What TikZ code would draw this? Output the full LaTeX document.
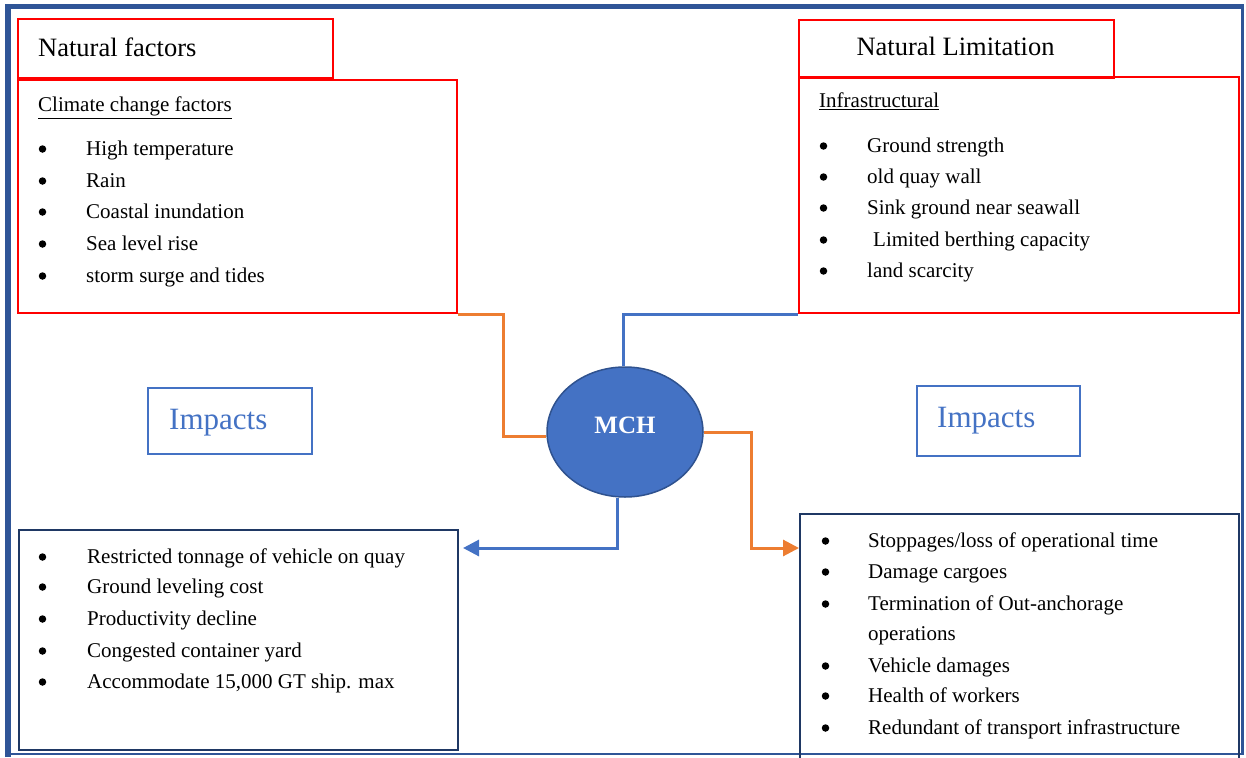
\documentclass[tikz,border=0pt]{standalone}
\usepackage{fontspec}
\setmainfont{Liberation Serif}
\usetikzlibrary{shapes.geometric,arrows.meta}

\definecolor{boxred}{HTML}{FF0000}
\definecolor{linkorange}{HTML}{ED7D31}
\definecolor{mchblue}{HTML}{4472C4}
\definecolor{mchedge}{HTML}{2F528F}
\definecolor{navy}{HTML}{1F3864}
\definecolor{framblue}{HTML}{2F5597}

\begin{document}
\begin{tikzpicture}
[
    x=1pt, y=-1pt,
    redbox/.style={draw=boxred, line width=2.2pt, anchor=north west, inner sep=0pt},
    navybox/.style={draw=navy, line width=2pt, anchor=north west, inner sep=0pt},
    impactbox/.style={draw=mchblue, line width=2pt, anchor=north west, inner sep=0pt},
    head/.style={anchor=base west, inner sep=0pt, font=\fontsize{26.5}{30}\selectfont},
    item/.style={anchor=base west, inner sep=0pt, font=\fontsize{21}{25}\selectfont},
    bulletmark/.style={circle, fill=black, inner sep=0pt, minimum size=7.5pt},
    impacttext/.style={anchor=base west, inner sep=0pt, text=mchblue, font=\fontsize{31}{36}\selectfont},
    link/.style={line width=3pt},
    tip/.style={-{Triangle[length=16pt, width=16pt]}}
]
    \useasboundingbox (0,0) rectangle (1246,757);

    % frame
    \draw[framblue, line width=2.5pt] (8,6.5) rectangle (1242.5,754);
    \draw[framblue, line width=5.5pt] (8,757) -- (8,6.5) -- (1244,6.5);

    % natural factors
    \begin{scope}
        \node [redbox, minimum width=315pt, minimum height=59pt] (nfhead) at (17,18) {};
        \node [redbox, minimum width=439pt, minimum height=233pt] (nfbody) at (17,79) {};
        \node [head] (nftitle) at (38,57) {Natural factors};
        \node [item] (nfsub) at (38,112) {\underline{Climate change factors}};
        \foreach \y/\t [count=\i] in {155/High temperature, 187/Rain, 218/Coastal inundation,
                250/Sea level rise, 282/storm surge and tides}
        {
            \node [bulletmark] (nfdot\i) at (42.5,\y-6) {};
            \node [item] (nfitem\i) at (86,\y) {\t};
        }
    \end{scope}

    % natural limitation
    \begin{scope}
        \node [redbox, minimum width=315pt, minimum height=58pt] (nlhead) at (798,19) {};
        \node [redbox, minimum width=440pt, minimum height=236pt] (nlbody) at (798,76) {};
        \node [head, anchor=base] (nltitle) at (955.5,56) {Natural Limitation};
        \node [item] (nlsub) at (819,108) {\underline{Infrastructural}};
        \foreach \y/\x/\t [count=\i] in {152/867/Ground strength, 183/867/old quay wall,
                214/867/Sink ground near seawall, 246/873/Limited berthing capacity,
                277/867/land scarcity}
        {
            \node [bulletmark] (nldot\i) at (823.5,\y-6) {};
            \node [item] (nlitem\i) at (\x,\y) {\t};
        }
    \end{scope}

    % impacts labels
    \node [impactbox, minimum width=164pt, minimum height=66pt] (impleft) at (147,387) {};
    \node [impacttext] (impleftt) at (169,429) {Impacts};
    \node [impactbox, minimum width=163pt, minimum height=70pt] (impright) at (916,385) {};
    \node [impacttext] (imprightt) at (937,427) {Impacts};

    % centre
    \node [ellipse, fill=mchblue, draw=mchedge, line width=1.5pt, minimum width=156pt,
        minimum height=130pt, text=white, font=\fontsize{25}{30}\selectfont\bfseries] (mch) at (625,432) {};
    \node [text=white, font=\fontsize{25}{30}\selectfont\bfseries, inner sep=0pt] (mchtext) at (625,425) {MCH};

    % lower left impacts
    \begin{scope}
        \node [navybox, minimum width=439pt, minimum height=220pt] (lebox) at (18,529) {};
        \foreach \y/\t [count=\i] in {563/Restricted tonnage of vehicle on quay, 593/Ground leveling cost,
                625/Productivity decline, 657/Congested container yard,
                688/{Accommodate 15,000 GT ship. max}}
        {
            \node [bulletmark] (ledot\i) at (42.5,\y-6) {};
            \node [item] (leitem\i) at (87,\y) {\t};
        }
    \end{scope}

    % lower right impacts
    \begin{scope}
        \node [navybox, minimum width=439pt, minimum height=260pt] (ribox) at (799,513) {};
        \foreach \y/\t [count=\i] in {547/{Stoppages/loss of operational time}, 578/Damage cargoes,
                610/Termination of Out-anchorage, 672/Vehicle damages,
                702/Health of workers, 734/Redundant of transport infrastructure}
        {
            \node [bulletmark] (ridot\i) at (825.5,\y-6) {};
            \node [item] (riitem\i) at (868,\y) {\t};
        }
        \node [item] (riitem3b) at (868,640) {operations};
    \end{scope}

    % connectors
    \draw [link, linkorange] (nfbody.south east) -- ++(45,0) |- ([yshift=-4pt]mch.west);
    \draw [link, mchblue] ([xshift=-2pt]mch.north) |- (nlbody.south west);
    \draw [link, linkorange, tip] (mch.east) -- ++(48,0)
        |- ([yshift=-35pt]ribox.north west);
    \draw [link, mchblue, tip, shorten >=4pt] ([xshift=-8pt]mch.south)
        |- ([yshift=-19pt]lebox.north east);
\end{tikzpicture}
\end{document}
